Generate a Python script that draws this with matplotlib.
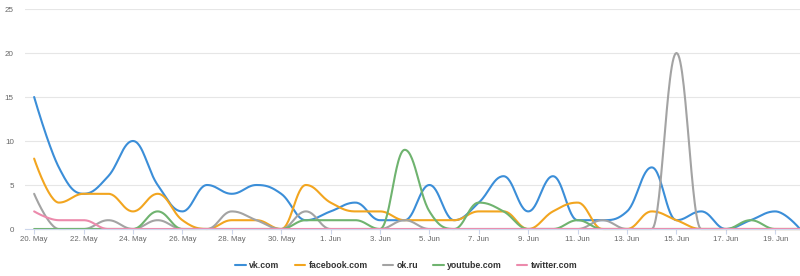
import numpy as np
import pandas as pd
import matplotlib
matplotlib.use("agg")
import matplotlib.pyplot as plt

# daily counts, 20 May .. 20 Jun
dates = pd.date_range("2019-05-20", "2019-06-20", freq="D")
vk = [15, 7, 4, 6, 10, 5, 2, 5, 4, 5, 4, 1, 2, 3, 1, 1, 5, 1, 3, 6, 2, 6, 1, 1, 2, 7, 1, 2, 0, 1, 2, 0]
facebook = [8, 3, 4, 4, 2, 4, 1, 0, 1, 1, 0, 5, 3, 2, 2, 1, 1, 1, 2, 2, 0, 2, 3, 0, 0, 2, 1, 0, 0, 0, 0, 0]
okru = [4, 0, 0, 1, 0, 1, 0, 0, 2, 1, 0, 2, 0, 0, 0, 1, 0, 0, 0, 0, 0, 0, 0, 1, 0, 0, 20, 0, 0, 0, 0, 0]
youtube = [0, 0, 0, 0, 0, 2, 0, 0, 0, 0, 0, 1, 1, 1, 0, 9, 2, 0, 3, 2, 0, 0, 1, 0, 0, 0, 0, 0, 0, 1, 0, 0]
twitter = [2, 1, 1, 0, 0, 0, 0, 0, 0, 0, 0, 0, 0, 0, 0, 0, 0, 0, 0, 0, 0, 0, 0, 0, 0, 0, 0, 0, 0, 0, 0, 0]

series = [
    ("vk.com", vk, "#3b8ed8"),
    ("facebook.com", facebook, "#f2a51f"),
    ("ok.ru", okru, "#a3a3a3"),
    ("youtube.com", youtube, "#6fb36f"),
    ("twitter.com", twitter, "#ec8aac"),
]


def spline(xs, ys, smoothing=1.5, n=30):
    """Highcharts-style spline through the points."""
    xs = np.asarray(xs, float)
    ys = np.asarray(ys, float)
    m = len(xs)
    lx, ly = xs.copy(), ys.copy()
    rx, ry = xs.copy(), ys.copy()
    d = smoothing + 1
    for i in range(1, m - 1):
        px, py = xs[i], ys[i]
        a, b = xs[i - 1], ys[i - 1]
        c, e = xs[i + 1], ys[i + 1]
        lcx = (smoothing * px + a) / d
        lcy = (smoothing * py + b) / d
        rcx = (smoothing * px + c) / d
        rcy = (smoothing * py + e) / d
        corr = (rcy - lcy) * (rcx - px) / (rcx - lcx) + py - rcy
        lcy += corr
        rcy += corr
        if lcy > b and lcy > py:
            lcy = max(b, py); rcy = 2 * py - lcy
        elif lcy < b and lcy < py:
            lcy = min(b, py); rcy = 2 * py - lcy
        if rcy > e and rcy > py:
            rcy = max(e, py); lcy = 2 * py - rcy
        elif rcy < e and rcy < py:
            rcy = min(e, py); lcy = 2 * py - rcy
        lx[i], ly[i], rx[i], ry[i] = lcx, lcy, rcx, rcy
    t = np.linspace(0, 1, n)[:, None]
    out_x, out_y = [xs[0]], [ys[0]]
    for i in range(1, m):
        P = np.array([[xs[i - 1], ys[i - 1]], [rx[i - 1], ry[i - 1]],
                      [lx[i], ly[i]], [xs[i], ys[i]]])
        B = ((1 - t) ** 3) * P[0] + 3 * ((1 - t) ** 2) * t * P[1] \
            + 3 * (1 - t) * t ** 2 * P[2] + t ** 3 * P[3]
        out_x.extend(B[1:, 0]); out_y.extend(B[1:, 1])
    return np.array(out_x), np.array(out_y)


plt.rcParams["font.family"] = ["Liberation Sans", "DejaVu Sans"]
fig = plt.figure(figsize=(8, 2.76), dpi=100)
ax = fig.add_axes([25 / 800, 1 - 229 / 276, 775 / 800, 220 / 276])

x = np.arange(len(dates))
for name, vals, color in series:
    sx, sy = spline(x, vals)
    ax.plot(sx, sy, color=color, lw=1.5, label=name, clip_on=False,
            solid_capstyle="round")

ax.set_xlim(-0.37, len(dates) - 1)
ax.set_ylim(0, 25)
ax.set_yticks(range(0, 26, 5))
ax.grid(axis="y", color="#e6e6e6", lw=0.8)
ax.set_axisbelow(True)
for s in ["top", "right", "left"]:
    ax.spines[s].set_visible(False)
ax.spines["bottom"].set_color("#ccd6eb")
ax.spines["bottom"].set_linewidth(0.8)

tick_idx = x[::2][:16]
ax.set_xticks(tick_idx)
ax.set_xticklabels([f"{d.day}. {d.strftime('%b')}" for d in dates[tick_idx]])
ax.tick_params(axis="x", length=3.5, color="#ccd6eb", width=0.8,
               labelsize=5.6, labelcolor="#666666", pad=1.5)
ax.tick_params(axis="y", length=0, labelsize=5.8, labelcolor="#666666", pad=8)

leg = fig.legend(loc="center", bbox_to_anchor=(0.508, 1 - 266 / 276), ncol=5,
                 frameon=False, handlelength=1.2, handletextpad=0.4,
                 columnspacing=1.7, prop={"size": 6.3, "weight": "bold"})
for t in leg.get_texts():
    t.set_color("#333333")

fig.savefig("out.png", dpi=100, facecolor="white")
plt.close(fig)
